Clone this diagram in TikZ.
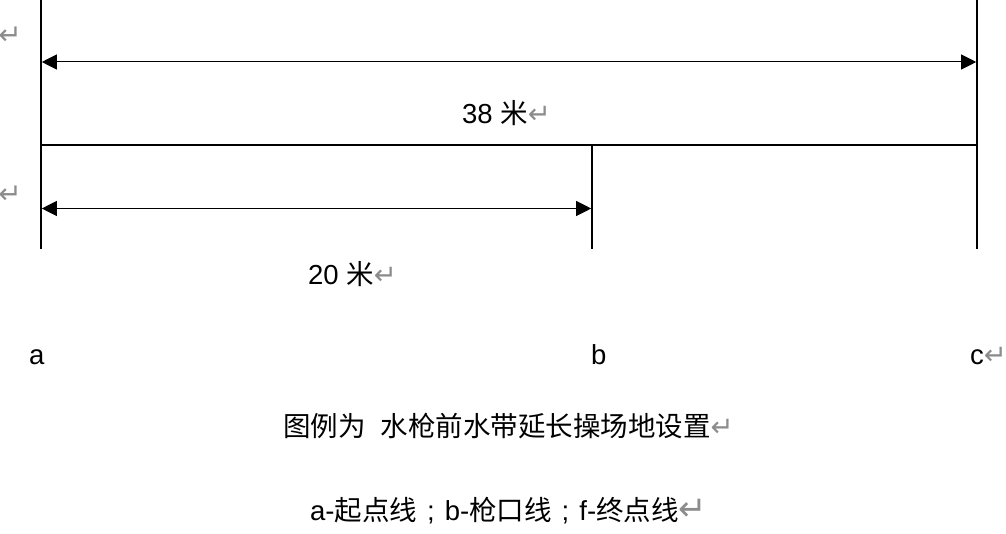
\documentclass[tikz,border=0pt]{standalone}
\usepackage{fontspec}
\setmainfont{Liberation Sans}
\newfontfamily\cjk{Noto Sans CJK SC}
\newfontfamily\symf{DejaVu Sans}
\usetikzlibrary{arrows.meta}
\definecolor{markgray}{RGB}{140,140,140}
\newcommand{\ret}{{\symf\color{markgray}↵}}
\newcommand{\semi}{\hspace{10pt};\hspace{10pt}}
\begin{document}
\begin{tikzpicture}[x=1pt,y=-1pt,
  bar/.style={line width=1.6pt},
  dimline/.style={line width=1pt,
    {Triangle[length=15pt,width=15pt]}-{Triangle[length=15pt,width=15pt]}},
  lbl/.style={inner sep=0pt, anchor=base west, font=\fontsize{27.5}{30}\selectfont},
  retmark/.style={inner sep=0pt, font=\fontsize{28}{30}\selectfont}]
\useasboundingbox[fill=white] (0,0) rectangle (1006,534);
% coordinates
\coordinate (aT) at (41,0);
\coordinate (aB) at (41,249);
\coordinate (cT) at (977,0);
\coordinate (cB) at (977,249);
\coordinate (bT) at (592,145);
\coordinate (bB) at (592,249);
\coordinate (aM) at (41,145);
\coordinate (cM) at (977,145);
\coordinate (d1l) at (41.8,62);
\coordinate (d1r) at (976.2,62);
\coordinate (d2l) at (41.8,208.5);
\coordinate (d2r) at (591.2,208.5);
% lines
\draw[bar] (aT) -- (aB);
\draw[bar] (cT) -- (cB);
\draw[bar] (bT) -- (bB);
\draw[bar] (aM) -- (cM);
\draw[dimline] (d1l) -- (d1r);
\draw[dimline] (d2l) -- (d2r);
% labels
\node[lbl] (t38) at (462,124) {38 {\cjk 米}\ret};
\node[lbl] (t20) at (308,285) {20 {\cjk 米}\ret};
\node[lbl] (la) at (29,364) {a};
\node[lbl] (lb) at (591,364) {b};
\node[lbl] (lc) at (970,364) {c\ret};
\node[retmark] (m1) at (10,36) {\ret};
\node[retmark] (m2) at (10,195) {\ret};
\node[lbl] (cap1) at (283,436) {{\cjk 图例为}\hspace{15pt}{\cjk 水枪前水带延长操场地设置}\ret};
\node[lbl] (cap2) at (310,520) {a-{\cjk 起点线}\semi b-{\cjk 枪口线}\semi f-{\cjk 终点线}{\fontsize{34}{36}\selectfont\symf\color{black!45}↵}};
\end{tikzpicture}
\end{document}
